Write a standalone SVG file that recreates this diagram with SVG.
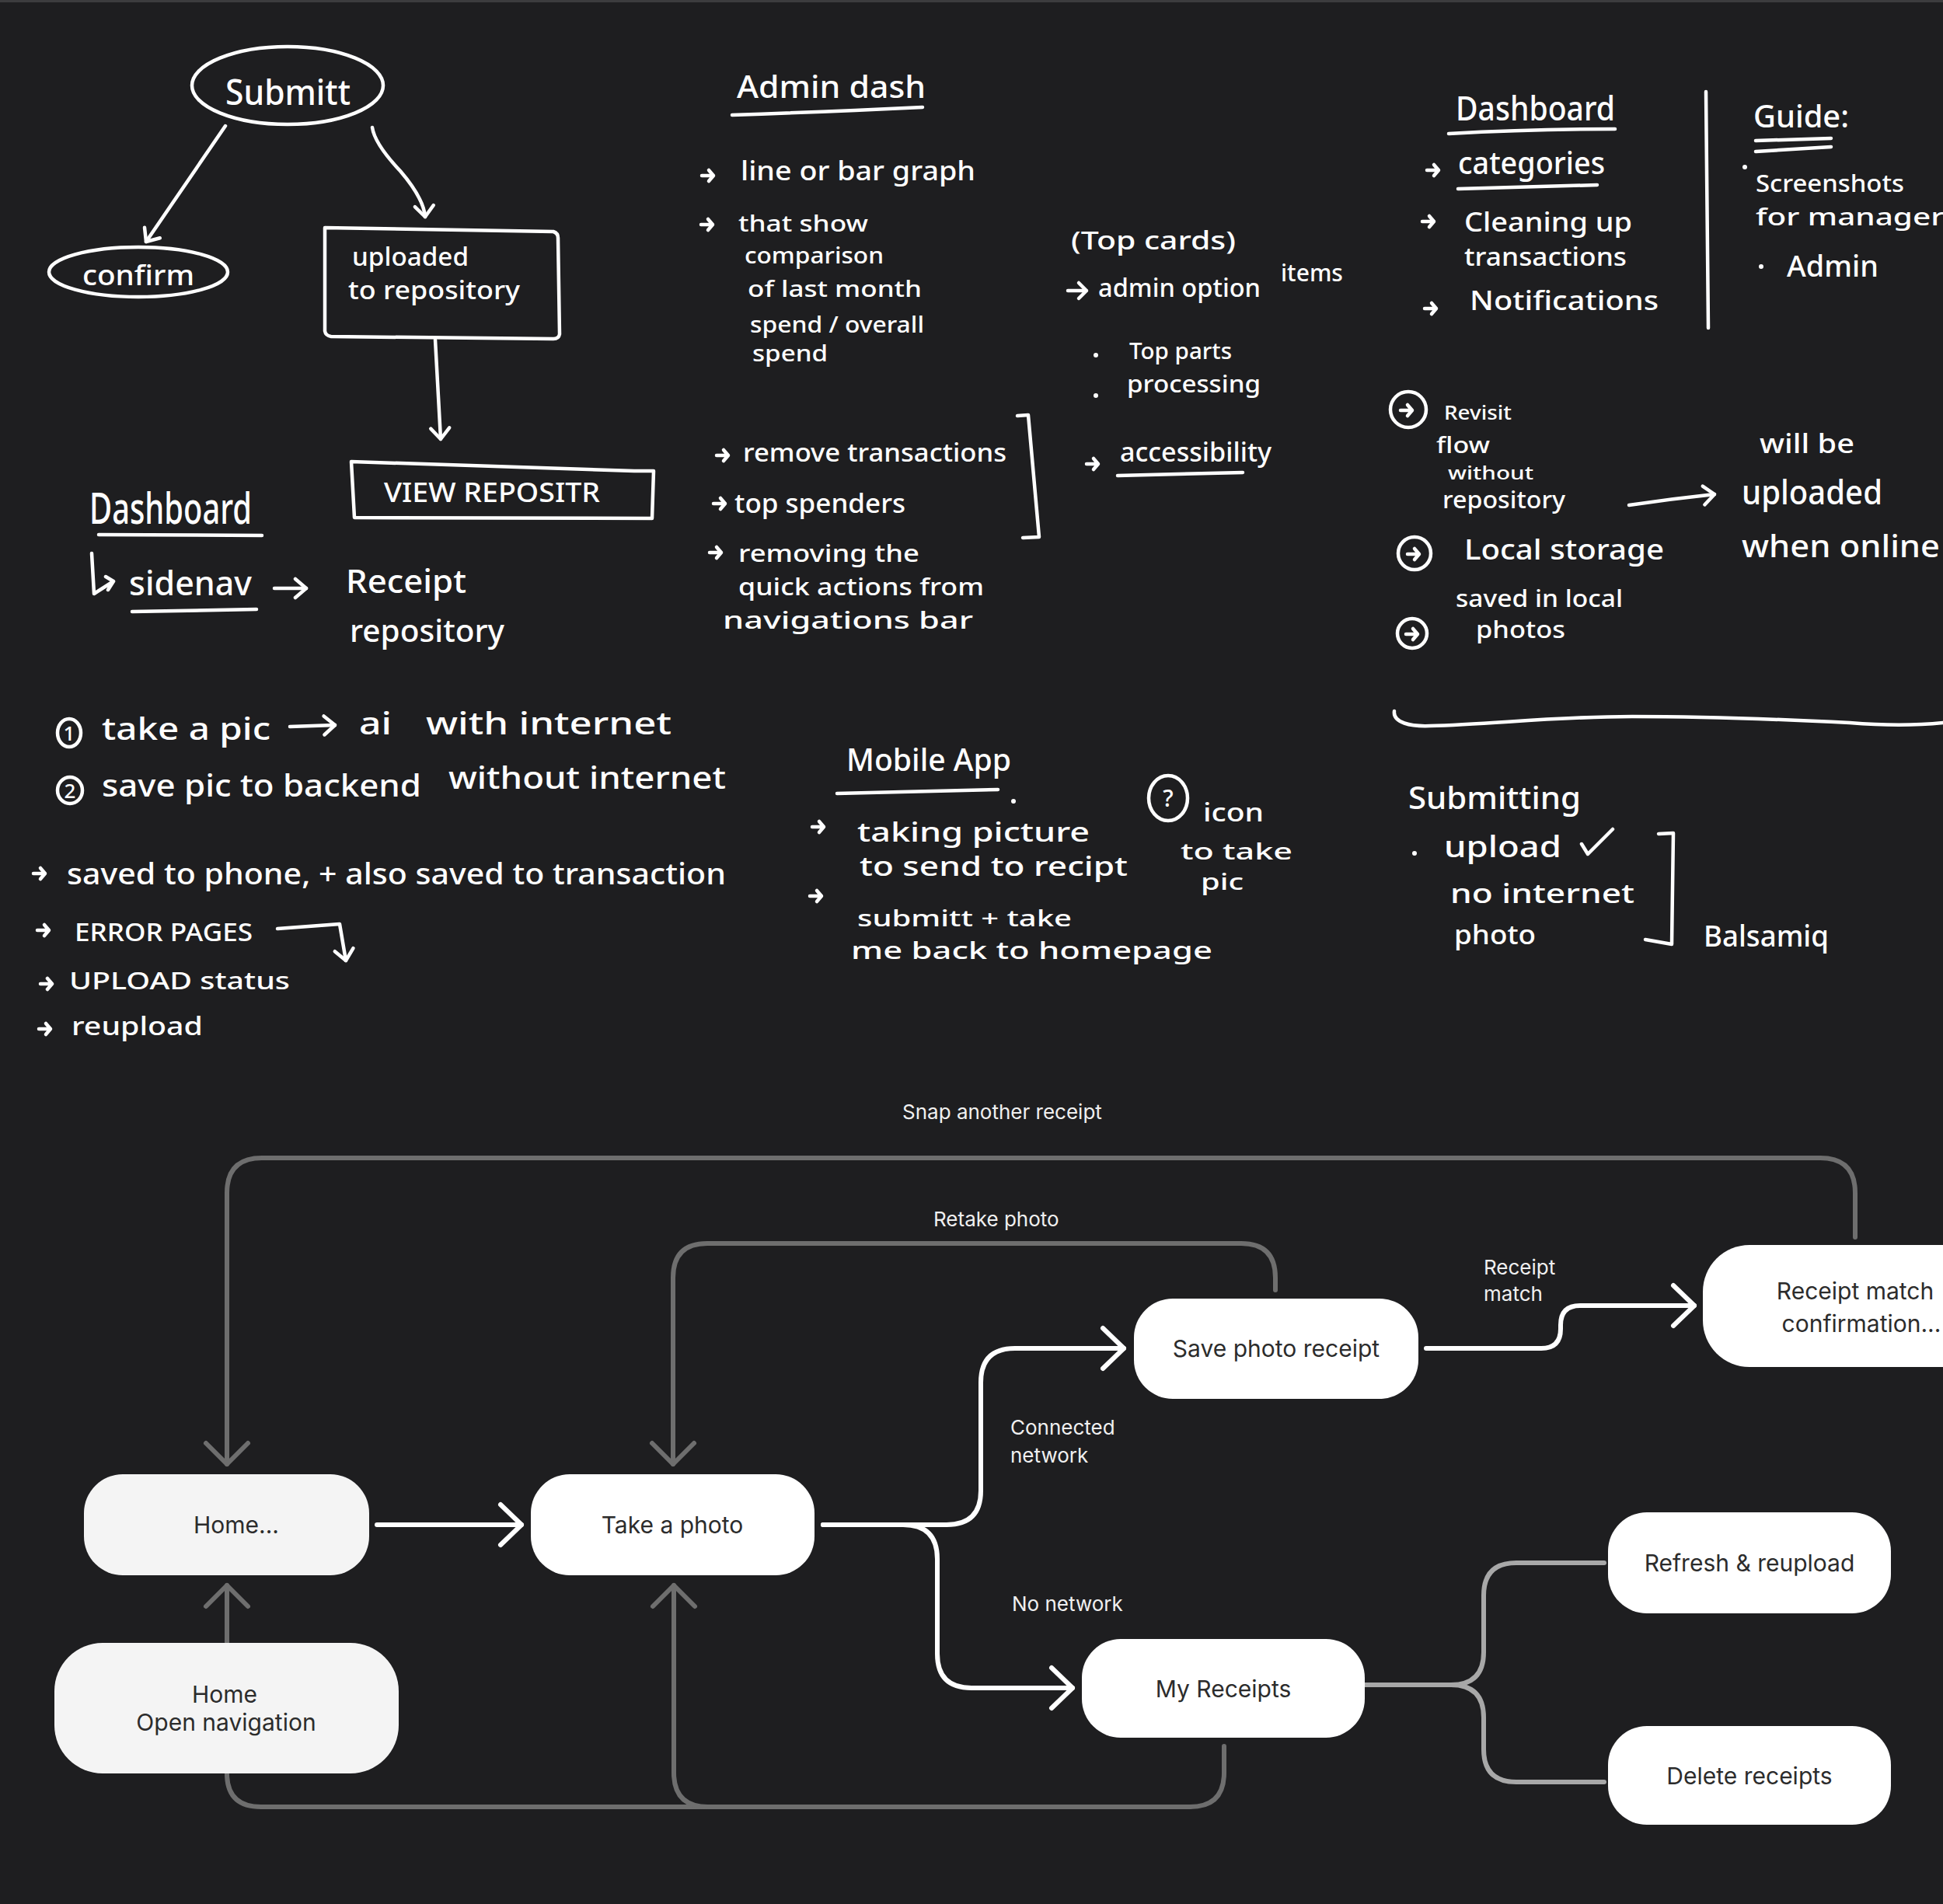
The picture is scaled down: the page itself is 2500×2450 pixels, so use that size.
<svg xmlns="http://www.w3.org/2000/svg" xmlns:xlink="http://www.w3.org/1999/xlink" width="2500" height="2450" viewBox="0 0 2500 2450">
<style>
.hw{font-family:"Noto Sans","DejaVu Sans",sans-serif;fill:#fff;font-weight:500}
.hs{fill:none;stroke:#fff;stroke-width:4.5;stroke-linecap:round;stroke-linejoin:round}
.node-l{fill:#f4f4f4}
.node-w{fill:#fff}
.nt{font-family:Inter,"Noto Sans",sans-serif;font-size:30px;fill:#2c2c2c;text-anchor:middle}
.el{font-family:Inter,"Noto Sans",sans-serif;font-size:26px;fill:#f0f0f0}
.cw{fill:none;stroke:#fff;stroke-width:6;stroke-linecap:round;stroke-linejoin:round}
.cg{fill:none;stroke:#6e6e6e;stroke-width:6;stroke-linecap:round;stroke-linejoin:round}
.cl{fill:none;stroke:#a8a8a8;stroke-width:6;stroke-linecap:round;stroke-linejoin:round}
</style>
<defs>
<marker id="aw" markerUnits="userSpaceOnUse" viewBox="0 0 60 60" markerWidth="60" markerHeight="60" refX="30" refY="30" orient="auto" overflow="visible">
<path d="M3 4 L30 30 L3 56" fill="none" stroke="#fff" stroke-width="6" stroke-linecap="round" stroke-linejoin="round"/>
</marker>
<marker id="ag" markerUnits="userSpaceOnUse" viewBox="0 0 60 60" markerWidth="60" markerHeight="60" refX="30" refY="30" orient="auto" overflow="visible">
<path d="M3 3 L30 30 L3 57" fill="none" stroke="#6e6e6e" stroke-width="6" stroke-linecap="round" stroke-linejoin="round"/>
</marker>
<marker id="ah" markerUnits="userSpaceOnUse" viewBox="0 0 40 40" markerWidth="40" markerHeight="40" refX="20" refY="20" orient="auto" overflow="visible">
<path d="M6 8 L20 20 L6 32" fill="none" stroke="#fff" stroke-width="4.5" stroke-linecap="round" stroke-linejoin="round"/>
</marker>
<path id="sa" d="M0 0 H15 M9 -7 L15 0 L9 7"/>
</defs>

<rect x="0" y="0" width="2500" height="2450" fill="#1e1e20"/>
<rect x="0" y="0" width="2500" height="3" fill="#3c3c3e"/>

<!-- Handwritten notes -->
<g id="notes-submit">
<ellipse class="hs" cx="370" cy="110" rx="123" ry="50"/>
<text class="hw" x="290" y="135" font-size="46" textLength="161" lengthAdjust="spacingAndGlyphs">Submitt</text>
<path class="hs" d="M290 162 Q240 235 188 311" marker-end="url(#ah)"/>
<path class="hs" d="M479 164 Q482 185 515 220 Q545 255 547 279" marker-end="url(#ah)"/>
<ellipse class="hs" cx="178" cy="350" rx="115" ry="32"/>
<text class="hw" x="106" y="367" font-size="36" textLength="144" lengthAdjust="spacingAndGlyphs">confirm</text>
<path class="hs" d="M418 293 L712 298 Q718 300 718 306 L720 430 Q719 436 712 436 L426 433 Q419 432 418 426 Z"/>
<text class="hw" x="453" y="342" font-size="32" textLength="150" lengthAdjust="spacingAndGlyphs">uploaded</text>
<text class="hw" x="448" y="385" font-size="32" textLength="221" lengthAdjust="spacingAndGlyphs">to repository</text>
<path class="hs" d="M560 437 L567 565" marker-end="url(#ah)"/>
<path class="hs" d="M452 594 L816 606 L841 606 L839 667 L456 666 Z"/>
<text class="hw" x="494" y="646" font-size="34" textLength="278" lengthAdjust="spacingAndGlyphs">VIEW REPOSITR</text>
</g>

<g id="notes-dashboard-left">
<text class="hw" x="115" y="674" font-size="56" textLength="209" lengthAdjust="spacingAndGlyphs">Dashboard</text>
<path class="hs" d="M127 688 L337 689"/>
<path class="hs" d="M118 712 L121 764 L146 748 M136 742 L146 748 L139 759"/>
<text class="hw" x="166" y="766" font-size="44" textLength="158" lengthAdjust="spacingAndGlyphs">sidenav</text>
<path class="hs" d="M170 787 L330 784"/>
<path class="hs" d="M353 757 L394 757" marker-end="url(#ah)"/>
<text class="hw" x="445" y="763" font-size="42" textLength="155" lengthAdjust="spacingAndGlyphs">Receipt</text>
<text class="hw" x="450" y="826" font-size="40" textLength="199" lengthAdjust="spacingAndGlyphs">repository</text>
</g>

<g id="notes-admin">
<text class="hw" x="948" y="126" font-size="40" textLength="243" lengthAdjust="spacingAndGlyphs">Admin dash</text>
<path class="hs" d="M942 148 Q1060 144 1187 138"/>
<use href="#sa" class="hs" x="903" y="226"/>
<text class="hw" x="953" y="232" font-size="34" textLength="302" lengthAdjust="spacingAndGlyphs">line or bar graph</text>
<use href="#sa" class="hs" x="902" y="289"/>
<text class="hw" x="950" y="298" font-size="29" textLength="167" lengthAdjust="spacingAndGlyphs">that show</text>
<text class="hw" x="958" y="339" font-size="29" textLength="179" lengthAdjust="spacingAndGlyphs">comparison</text>
<text class="hw" x="962" y="382" font-size="29" textLength="224" lengthAdjust="spacingAndGlyphs">of last month</text>
<text class="hw" x="965" y="428" font-size="28" textLength="224" lengthAdjust="spacingAndGlyphs">spend / overall</text>
<text class="hw" x="968" y="465" font-size="28" textLength="97" lengthAdjust="spacingAndGlyphs">spend</text>
<text class="hw" x="1378" y="321" font-size="32" textLength="212" lengthAdjust="spacingAndGlyphs">(Top cards)</text>
<path class="hs" d="M1374 374 L1398 374 M1388 364 L1398 374 L1388 384"/>
<text class="hw" x="1413" y="382" font-size="32" textLength="209" lengthAdjust="spacingAndGlyphs">admin option</text>
<text class="hw" x="1648" y="362" font-size="30" textLength="80" lengthAdjust="spacingAndGlyphs">items</text>
<circle cx="1410" cy="457" r="3" fill="#fff"/>
<text class="hw" x="1453" y="462" font-size="28" textLength="132" lengthAdjust="spacingAndGlyphs">Top parts</text>
<circle cx="1410" cy="509" r="3" fill="#fff"/>
<text class="hw" x="1450" y="505" font-size="30" textLength="172" lengthAdjust="spacingAndGlyphs">processing</text>
<use href="#sa" class="hs" x="1398" y="597"/>
<text class="hw" x="1441" y="594" font-size="34" textLength="195" lengthAdjust="spacingAndGlyphs">accessibility</text>
<path class="hs" d="M1438 612 L1599 608"/>
<use href="#sa" class="hs" x="922" y="586"/>
<text class="hw" x="956" y="594" font-size="32" textLength="339" lengthAdjust="spacingAndGlyphs">remove transactions</text>
<use href="#sa" class="hs" x="918" y="648"/>
<text class="hw" x="945" y="660" font-size="34" textLength="220" lengthAdjust="spacingAndGlyphs">top spenders</text>
<use href="#sa" class="hs" x="913" y="711"/>
<text class="hw" x="950" y="723" font-size="31" textLength="233" lengthAdjust="spacingAndGlyphs">removing the</text>
<text class="hw" x="950" y="766" font-size="30" textLength="316" lengthAdjust="spacingAndGlyphs">quick actions from</text>
<text class="hw" x="930" y="809" font-size="30" textLength="322" lengthAdjust="spacingAndGlyphs">navigations bar</text>
<path class="hs" d="M1309 535 L1323 534 L1337 691 L1316 692"/>
</g>

<g id="notes-dashboard-right">
<text class="hw" x="1873" y="155" font-size="44" textLength="205" lengthAdjust="spacingAndGlyphs">Dashboard</text>
<path class="hs" d="M1864 172 Q1970 166 2078 166"/>
<use href="#sa" class="hs" x="1836" y="219"/>
<text class="hw" x="1876" y="224" font-size="40" textLength="189" lengthAdjust="spacingAndGlyphs">categories</text>
<path class="hs" d="M1876 243 L2055 238"/>
<use href="#sa" class="hs" x="1830" y="285"/>
<text class="hw" x="1884" y="298" font-size="34" textLength="216" lengthAdjust="spacingAndGlyphs">Cleaning up</text>
<text class="hw" x="1884" y="342" font-size="32" textLength="209" lengthAdjust="spacingAndGlyphs">transactions</text>
<use href="#sa" class="hs" x="1833" y="397"/>
<text class="hw" x="1891" y="399" font-size="34" textLength="243" lengthAdjust="spacingAndGlyphs">Notifications</text>
<path class="hs" d="M2195 118 Q2197 270 2198 422"/>
<text class="hw" x="2256" y="164" font-size="40" textLength="123" lengthAdjust="spacingAndGlyphs">Guide:</text>
<path class="hs" d="M2259 181 L2356 178 M2259 195 L2356 189"/>
<circle cx="2245" cy="215" r="3" fill="#fff"/>
<text class="hw" x="2259" y="247" font-size="30" textLength="191" lengthAdjust="spacingAndGlyphs">Screenshots</text>
<text class="hw" x="2259" y="290" font-size="30" textLength="262" lengthAdjust="spacingAndGlyphs">for managers</text>
<circle cx="2266" cy="343" r="3" fill="#fff"/>
<text class="hw" x="2299" y="356" font-size="38" textLength="118" lengthAdjust="spacingAndGlyphs">Admin</text>
</g>

<g id="notes-offline">
<circle class="hs" cx="1812" cy="527" r="23"/>
<use href="#sa" class="hs" x="1802" y="528"/>
<text class="hw" x="1858" y="540" font-size="26" textLength="87" lengthAdjust="spacingAndGlyphs">Revisit</text>
<text class="hw" x="1848" y="583" font-size="28" textLength="69" lengthAdjust="spacingAndGlyphs">flow</text>
<text class="hw" x="1863" y="617" font-size="24" textLength="110" lengthAdjust="spacingAndGlyphs">without</text>
<text class="hw" x="1856" y="654" font-size="30" textLength="158" lengthAdjust="spacingAndGlyphs">repository</text>
<path class="hs" d="M2096 650 Q2150 642 2206 636" marker-end="url(#ah)"/>
<text class="hw" x="2264" y="583" font-size="34" textLength="122" lengthAdjust="spacingAndGlyphs">will be</text>
<text class="hw" x="2241" y="649" font-size="44" textLength="181" lengthAdjust="spacingAndGlyphs">uploaded</text>
<text class="hw" x="2241" y="717" font-size="40" textLength="255" lengthAdjust="spacingAndGlyphs">when online</text>
<circle class="hs" cx="1820" cy="712" r="21"/>
<use href="#sa" class="hs" x="1811" y="713"/>
<text class="hw" x="1884" y="720" font-size="36" textLength="257" lengthAdjust="spacingAndGlyphs">Local storage</text>
<text class="hw" x="1873" y="781" font-size="30" textLength="215" lengthAdjust="spacingAndGlyphs">saved in local</text>
<circle class="hs" cx="1817" cy="815" r="19"/>
<use href="#sa" class="hs" x="1809" y="816"/>
<text class="hw" x="1899" y="821" font-size="30" textLength="115" lengthAdjust="spacingAndGlyphs">photos</text>
</g>

<g id="notes-pic">
<ellipse class="hs" cx="89" cy="943" rx="15" ry="18"/>
<text class="hw" x="89" y="953" font-size="26" text-anchor="middle">1</text>
<text class="hw" x="131" y="952" font-size="40" textLength="217" lengthAdjust="spacingAndGlyphs">take a pic</text>
<path class="hs" d="M373 935 L431 933" marker-end="url(#ah)"/>
<text class="hw" x="462" y="945" font-size="40" textLength="42" lengthAdjust="spacingAndGlyphs">ai</text>
<text class="hw" x="548" y="945" font-size="40" textLength="316" lengthAdjust="spacingAndGlyphs">with internet</text>
<ellipse class="hs" cx="90" cy="1017" rx="16" ry="17"/>
<text class="hw" x="90" y="1027" font-size="26" text-anchor="middle">2</text>
<text class="hw" x="131" y="1025" font-size="40" textLength="411" lengthAdjust="spacingAndGlyphs">save pic to backend</text>
<text class="hw" x="577" y="1015" font-size="40" textLength="357" lengthAdjust="spacingAndGlyphs">without internet</text>
<use href="#sa" class="hs" x="43" y="1124"/>
<text class="hw" x="86" y="1138" font-size="38" textLength="848" lengthAdjust="spacingAndGlyphs">saved to phone, + also saved to transaction</text>
<use href="#sa" class="hs" x="48" y="1197"/>
<text class="hw" x="96" y="1211" font-size="32" textLength="229" lengthAdjust="spacingAndGlyphs">ERROR PAGES</text>
<path class="hs" d="M357 1195 L437 1189 L445 1236" marker-end="url(#ah)"/>
<use href="#sa" class="hs" x="52" y="1266"/>
<text class="hw" x="89" y="1273" font-size="30" textLength="284" lengthAdjust="spacingAndGlyphs">UPLOAD status</text>
<use href="#sa" class="hs" x="50" y="1324"/>
<text class="hw" x="92" y="1332" font-size="32" textLength="169" lengthAdjust="spacingAndGlyphs">reupload</text>
</g>

<g id="notes-mobile">
<text class="hw" x="1089" y="992" font-size="40" textLength="212" lengthAdjust="spacingAndGlyphs">Mobile App</text>
<path class="hs" d="M1077 1021 L1284 1016"/>
<circle cx="1304" cy="1031" r="3" fill="#fff"/>
<use href="#sa" class="hs" x="1045" y="1064"/>
<text class="hw" x="1103" y="1083" font-size="34" textLength="299" lengthAdjust="spacingAndGlyphs">taking picture</text>
<text class="hw" x="1106" y="1127" font-size="34" textLength="345" lengthAdjust="spacingAndGlyphs">to send to recipt</text>
<use href="#sa" class="hs" x="1042" y="1153"/>
<text class="hw" x="1103" y="1192" font-size="28" textLength="276" lengthAdjust="spacingAndGlyphs">submitt + take</text>
<text class="hw" x="1095" y="1234" font-size="30" textLength="465" lengthAdjust="spacingAndGlyphs">me back to homepage</text>
<ellipse class="hs" cx="1503" cy="1027" rx="25" ry="29"/>
<text class="hw" x="1503" y="1038" font-size="30" text-anchor="middle">?</text>
<text class="hw" x="1548" y="1057" font-size="32" textLength="78" lengthAdjust="spacingAndGlyphs">icon</text>
<text class="hw" x="1519" y="1106" font-size="28" textLength="144" lengthAdjust="spacingAndGlyphs">to take</text>
<text class="hw" x="1545" y="1145" font-size="28" textLength="55" lengthAdjust="spacingAndGlyphs">pic</text>
</g>

<g id="notes-submitting">
<path class="hs" d="M1794 915 C1792 930 1815 935 1840 934 C1920 932 2000 922 2100 922 C2200 922 2300 926 2380 930 C2430 934 2470 933 2500 930"/>
<text class="hw" x="1812" y="1041" font-size="40" textLength="222" lengthAdjust="spacingAndGlyphs">Submitting</text>
<circle cx="1820" cy="1098" r="3" fill="#fff"/>
<text class="hw" x="1858" y="1103" font-size="38" textLength="151" lengthAdjust="spacingAndGlyphs">upload</text>
<path class="hs" d="M2035 1086 L2043 1099 L2075 1067"/>
<text class="hw" x="1866" y="1162" font-size="34" textLength="237" lengthAdjust="spacingAndGlyphs">no internet</text>
<text class="hw" x="1871" y="1215" font-size="34" textLength="105" lengthAdjust="spacingAndGlyphs">photo</text>
<path class="hs" d="M2134 1073 L2153 1072 L2151 1215 L2117 1209"/>
<text class="hw" x="2192" y="1218" font-size="38" textLength="161" lengthAdjust="spacingAndGlyphs">Balsamiq</text>
</g>

<!-- Flow diagram connectors -->
<g id="connectors">
<path class="cg" d="M2387 1592 V1535 Q2387 1490 2342 1490 H337 Q292 1490 292 1535 V1884" marker-end="url(#ag)"/>
<path class="cg" d="M1641 1660 V1644 Q1641 1600 1597 1600 H910 Q866 1600 866 1644 V1884" marker-end="url(#ag)"/>
<path class="cg" d="M292 2114 V2040" marker-end="url(#ag)"/>
<path class="cg" d="M292 2282 Q292 2325 336 2325 H1531"/>
<path class="cg" d="M1575 2247 V2281 Q1575 2325 1531 2325 H911 Q867 2325 867 2281 V2040" marker-end="url(#ag)"/>
<path class="cw" d="M485 1962 H671" marker-end="url(#aw)"/>
<path class="cw" d="M1059 1962 H1218 Q1262 1962 1262 1918 V1779 Q1262 1735 1306 1735 H1446" marker-end="url(#aw)"/>
<path class="cw" d="M1059 1962 H1162 Q1206 1962 1206 2006 V2128 Q1206 2172 1250 2172 H1380" marker-end="url(#aw)"/>
<path class="cw" d="M1835 1735 H1983 Q2008 1735 2008 1710 V1705 Q2008 1680 2033 1680 H2180" marker-end="url(#aw)"/>
<path class="cl" d="M1754 2168 H1867 Q1909 2168 1909 2126 V2053 Q1909 2011 1951 2011 H2064"/>
<path class="cl" d="M1754 2168 H1867 Q1909 2168 1909 2210 V2251 Q1909 2293 1951 2293 H2064"/>
<text class="el" x="1161" y="1440">Snap another receipt</text>
<text class="el" x="1201" y="1578">Retake photo</text>
<text class="el" x="1909" y="1640">Receipt</text>
<text class="el" x="1909" y="1674">match</text>
<text class="el" x="1300" y="1846">Connected</text>
<text class="el" x="1300" y="1882">network</text>
<text class="el" x="1302" y="2073">No network</text>
</g>

<!-- Flow diagram nodes -->
<g id="node-home">
<rect class="node-l" x="108" y="1897" width="367" height="130" rx="50"/>
<text class="nt" x="304" y="1973">Home...</text>
</g>
<g id="node-take-photo">
<rect class="node-w" x="683" y="1897" width="365" height="130" rx="50"/>
<text class="nt" x="865" y="1973">Take a photo</text>
</g>
<g id="node-home-nav">
<rect class="node-l" x="70" y="2114" width="443" height="168" rx="62"/>
<text class="nt" x="289" y="2191">Home</text>
<text class="nt" x="291" y="2227">Open navigation</text>
</g>
<g id="node-save-photo">
<rect class="node-w" x="1459" y="1671" width="366" height="129" rx="50"/>
<text class="nt" x="1642" y="1746">Save photo receipt</text>
</g>
<g id="node-receipt-match">
<rect class="node-w" x="2191" y="1602" width="400" height="157" rx="60"/>
<text class="nt" x="2387" y="1672">Receipt match</text>
<text class="nt" x="2395" y="1714">confirmation...</text>
</g>
<g id="node-my-receipts">
<rect class="node-w" x="1392" y="2109" width="364" height="127" rx="50"/>
<text class="nt" x="1574" y="2184">My Receipts</text>
</g>
<g id="node-refresh">
<rect class="node-w" x="2069" y="1946" width="364" height="130" rx="50"/>
<text class="nt" x="2251" y="2022">Refresh &amp; reupload</text>
</g>
<g id="node-delete">
<rect class="node-w" x="2069" y="2221" width="364" height="127" rx="50"/>
<text class="nt" x="2251" y="2296">Delete receipts</text>
</g>
</svg>
